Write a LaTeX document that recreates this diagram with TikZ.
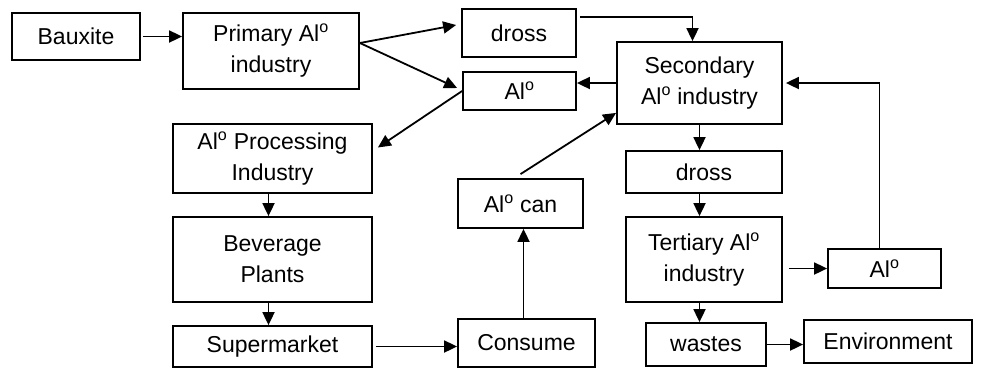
\documentclass[tikz,border=0pt]{standalone}
\usepackage{fontspec}
\setmainfont{Liberation Sans}
\usetikzlibrary{arrows.meta}
\newcommand{\alo}{Al\textsuperscript{o}}
\tikzset{
  box/.style={draw, line width=1.8pt, inner sep=0pt, align=center,
    font=\fontsize{23}{31}\selectfont},
  arr/.style={-{Triangle[length=13pt,width=12pt]}, line width=1.8pt}
}
\begin{document}
\begin{tikzpicture}[x=1pt,y=-1pt]

      \useasboundingbox (0,0) rectangle (984,368);

      % left column
      \node[box,minimum width=128pt,minimum height=47pt] (baux) at (76,36.5) {Bauxite};
      \node[box,minimum width=176pt,minimum height=76pt] (prim) at (271,51) {Primary \alo\\industry};
      \node[box,minimum width=199pt,minimum height=69pt] (proc) at (272.5,158.5) {\alo{} Processing\\Industry};
      \node[box,minimum width=199pt,minimum height=85pt] (bev) at (272.5,259.5) {Beverage\\Plants};
      \node[box,minimum width=199pt,minimum height=41pt] (sup) at (272.5,346.5) {Supermarket};

      % middle column
      \node[box,minimum width=114pt,minimum height=48pt] (drossA) at (519,33) {dross};
      \node[box,minimum width=113pt,minimum height=38pt] (alA) at (519.5,91) {\alo};
      \node[box,minimum width=125pt,minimum height=49pt] (can) at (520.5,203.5) {\alo{} can};
      \node[box,minimum width=137pt,minimum height=48pt] (cons) at (526.5,343) {Consume};

      % right column
      \node[box,minimum width=165pt,minimum height=82pt] (sec) at (699.5,83) {Secondary\\\alo{} industry};
      \node[box,minimum width=156pt,minimum height=42pt] (drossB) at (704,172) {dross};
      \node[box,minimum width=156pt,minimum height=85pt] (tert) at (704,259.5) {Tertiary \alo\\industry};
      \node[box,minimum width=113pt,minimum height=39pt] (alB) at (884.5,268.5) {\alo};
      \node[box,minimum width=120pt,minimum height=43pt] (wastes) at (706,344.5) {wastes};
      \node[box,minimum width=168pt,minimum height=43pt] (env) at (888,341.5) {Environment};

      % flows
      \draw[arr,shorten <=2pt] (baux.east) -- (baux.east -| prim.west);
      \draw[arr] ([yshift=8pt]prim.east) -- ([xshift=-5pt,yshift=8pt]drossA.west);
      \draw[arr] ([yshift=8pt]prim.east) -- ([xshift=-5pt,yshift=3pt]alA.west);
      \draw[arr] (alA.west) -- ([xshift=5pt,yshift=11pt]proc.east);
      \draw[arr] ([xshift=3pt,yshift=16pt]drossA.east) -| ([xshift=-7pt]sec.north);
      \draw[arr] (sec.west) -- (sec.west -| alA.east);
      \draw[arr] ([yshift=4pt]can.north) -- ([yshift=12pt]sec.south west);
      \draw[arr] (sec.south) -- (sec.south |- drossB.north);
      \draw[arr] (drossB.south -| sec.south) -- (tert.north -| sec.south);
      \draw[arr,shorten <=6pt] (tert.east |- alB.west) -- (alB.west);
      \draw[arr] ([xshift=-5pt]alB.north) |- ([xshift=3pt]sec.east);
      \draw[arr] (tert.south -| sec.south) -- (wastes.north -| sec.south);
      \draw[arr] (wastes.east) -- (wastes.east -| env.west);
      \draw[arr] ([xshift=-3pt]cons.north) -- ([xshift=-3pt]cons.north |- can.south);
      \draw[arr,shorten <=3pt] (sup.east) -- (sup.east -| cons.west);
      \draw[arr] ([xshift=-4pt]proc.south) -- ([xshift=-4pt]bev.north);
      \draw[arr] ([xshift=-4pt]bev.south) -- ([xshift=-4pt]sup.north);

\end{tikzpicture}
\end{document}
